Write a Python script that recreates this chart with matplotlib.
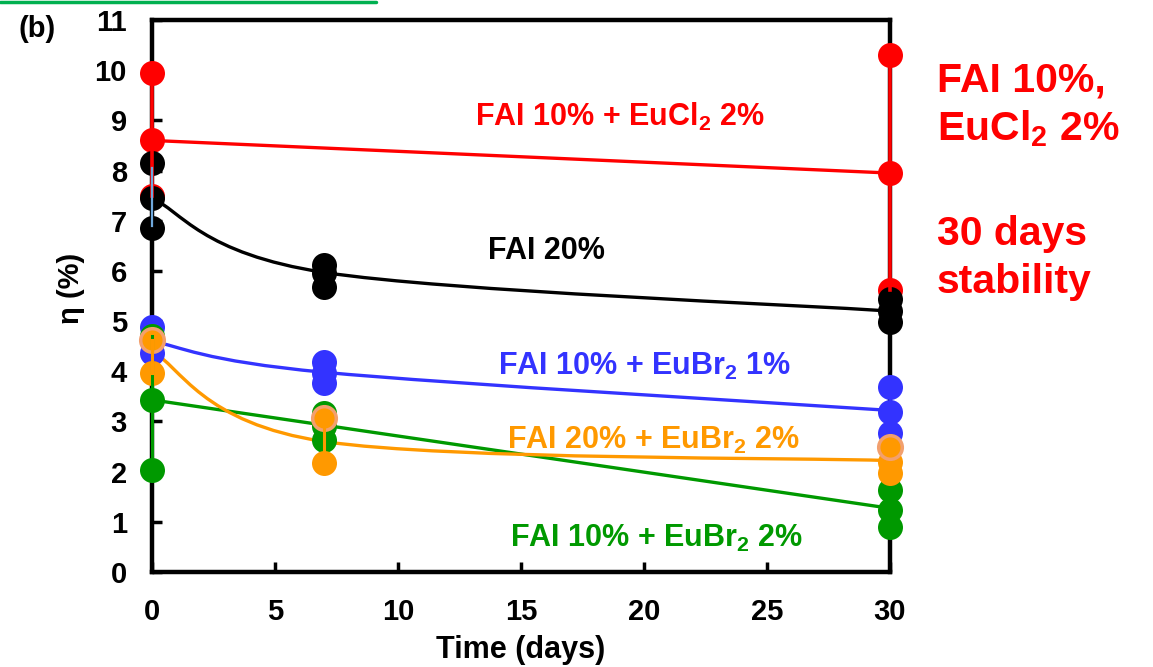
import matplotlib
matplotlib.use("Agg")
import matplotlib.pyplot as plt
from matplotlib.path import Path
from matplotlib.patches import PathPatch
from matplotlib.lines import Line2D

plt.rcParams['font.family'] = ['Liberation Sans', 'DejaVu Sans']
plt.rcParams['font.weight'] = 'bold'
plt.rcParams['mathtext.fontset'] = 'custom'
plt.rcParams['mathtext.bf'] = 'Liberation Sans:bold'
plt.rcParams['mathtext.rm'] = 'Liberation Sans:bold'
plt.rcParams['mathtext.default'] = 'bf'

# measured efficiencies (%) per cell, grouped by day
red_x = [0, 0, 0, 30, 30, 30]
red_y = [9.95, 8.6, 7.5, 10.3, 7.95, 5.62]
black_x = [0, 0, 0, 7, 7, 7, 30, 30, 30]
black_y = [8.15, 7.45, 6.85, 6.12, 5.95, 5.68, 5.44, 5.2, 4.98]
blue_x = [0, 0, 0, 7, 7, 7, 30, 30, 30]
blue_y = [4.88, 4.6, 4.36, 4.18, 3.97, 3.76, 3.69, 3.19, 2.77]
green_x = [0, 0, 0, 7, 7, 7, 30, 30, 30]
green_y = [4.7, 3.43, 2.03, 3.17, 2.9, 2.63, 1.63, 1.23, 0.9]
orange_x = [0, 7, 30, 30]
orange_y = [3.96, 2.17, 2.19, 1.97]
orange_ring_x = [0, 7, 30]
orange_ring_y = [4.62, 3.07, 2.49]

# trend lines
red_fit_x = [0, 30]
red_fit_y = [8.6, 7.95]
black_fit_x = [0, 7, 30]
black_fit_y = [7.45, 5.97, 5.2]
blue_fit_x = [0, 7, 30]
blue_fit_y = [4.6, 3.98, 3.22]
orange_fit_x = [0, 7, 30]
orange_fit_y = [4.4, 2.6, 2.22]
green_fit_x = [0, 30]
green_fit_y = [3.43, 1.27]

RED = '#ff0000'
BLUE = '#3333ff'
GREEN = '#009900'
ORANGE = '#ff9900'
SALMON = '#f2a06e'


def smooth_path(xs, ys):
    # Catmull-Rom style bezier through the points (like a spreadsheet "smoothed line")
    pts = list(zip(xs, ys))
    verts = [pts[0]]
    codes = [Path.MOVETO]
    n = len(pts)
    for i in range(n - 1):
        p0 = pts[i - 1] if i > 0 else pts[i]
        p1 = pts[i]
        p2 = pts[i + 1]
        p3 = pts[i + 2] if i + 2 < n else pts[i + 1]
        c1 = (p1[0] + (p2[0] - p0[0]) / 6, p1[1] + (p2[1] - p0[1]) / 6)
        c2 = (p2[0] - (p3[0] - p1[0]) / 6, p2[1] - (p3[1] - p1[1]) / 6)
        verts += [c1, c2, p2]
        codes += [Path.CURVE4] * 3
    return Path(verts, codes)


fig = plt.figure(figsize=(11.53, 6.67), dpi=100)
ax = fig.add_axes([152 / 1153, 95 / 667, 738 / 1153, 552 / 667])

# vertical connectors between replicate cells
def connectors(xs, ys, color, lw=2.2):
    for d in sorted(set(xs)):
        vals = [y for x, y in zip(xs, ys) if x == d]
        ax.plot([d, d], [min(vals), max(vals)], color=color, lw=lw,
                clip_on=False, zorder=6)

# trend lines
ax.plot(red_fit_x, red_fit_y, color=RED, lw=2.4, zorder=3, clip_on=False)
ax.plot(green_fit_x, green_fit_y, color=GREEN, lw=2.4, zorder=3, clip_on=False)
for fx, fy, c in [(black_fit_x, black_fit_y, 'black'),
                  (blue_fit_x, blue_fit_y, BLUE),
                  (orange_fit_x, orange_fit_y, ORANGE)]:
    ax.add_patch(PathPatch(smooth_path(fx, fy), fill=False, edgecolor=c,
                           lw=2.4, zorder=3, clip_on=False))

ms = 18
ax.plot(blue_x, blue_y, 'o', color=BLUE, ms=ms, mew=0, zorder=4, clip_on=False)
ax.plot(green_x, green_y, 'o', color=GREEN, ms=ms, mew=0, zorder=4.1, clip_on=False)
ax.plot(orange_x, orange_y, 'o', color=ORANGE, ms=ms, mew=0, zorder=4.2, clip_on=False)
ax.plot(orange_ring_x, orange_ring_y, 'o', color=ORANGE, mec=SALMON, ms=ms - 1,
        mew=2.5, zorder=4.3, clip_on=False)
ax.plot(red_x, red_y, 'o', color=RED, ms=ms, mew=0, zorder=4.4, clip_on=False)
ax.plot(black_x, black_y, 'o', color='black', ms=ms, mew=0, zorder=4.5, clip_on=False)

connectors(red_x, red_y, RED, lw=2.6)
connectors(green_x[:3], green_y[:3], GREEN)
connectors([0, 0], [orange_ring_y[0], orange_y[0]], ORANGE)
connectors([7, 7], [orange_ring_y[1], orange_y[1]], ORANGE)
ax.plot([0, 0], [8.05, 6.9], color='#6fa8dc', lw=1.6, zorder=6.5, clip_on=False)

ax.set_xlim(0, 30)
ax.set_ylim(0, 11)
ax.set_xticks(range(0, 31, 5))
ax.set_yticks(range(0, 12))
ax.tick_params(direction='in', length=7, width=2.5, labelsize=21,
               top=False, right=False)
ax.tick_params(axis='x', pad=19)
ax.tick_params(axis='y', pad=18)
for s in ax.spines.values():
    s.set_linewidth(3.2)
    s.set_zorder(2.5)
ax.set_xlabel('Time (days)', fontsize=22, fontweight='bold', labelpad=6)

fig.text(71 / 1153, 1 - 288 / 667, 'η (%)', rotation=90, ha='center', va='center',
         fontsize=21, fontweight='bold')
fig.text(37 / 1153, 1 - 29 / 667, '(b)', ha='center', va='center',
         fontsize=21, fontweight='bold')
fig.add_artist(Line2D([0, 376 / 1153], [1 - 1.5 / 667] * 2, color='#00b050',
                      lw=2.5, solid_capstyle='round'))

# series labels
lab = dict(ha='center', va='baseline', fontsize=22, fontweight='bold')
ax.text(19.0, 8.89, r'FAI 10% + EuCl$_2$ 2%', color=RED, **lab)
ax.text(16.04, 6.24, 'FAI 20%', color='black', **lab)
ax.text(20.04, 3.93, r'FAI 10% + EuBr$_2$ 1%', color=BLUE, **lab)
ax.text(20.4, 2.45, r'FAI 20% + EuBr$_2$ 2%', color=ORANGE, **lab)
ax.text(20.53, 0.50, r'FAI 10% + EuBr$_2$ 2%', color=GREEN, **lab)

side = dict(ha='left', va='baseline', fontsize=29.5, fontweight='bold', color=RED)
fig.text(937 / 1153, 1 - 92 / 667, 'FAI 10%,', **side)
fig.text(937 / 1153, 1 - 140 / 667, r'EuCl$_2$ 2%', **side)
fig.text(937 / 1153, 1 - 245 / 667, '30 days', **side)
fig.text(937 / 1153, 1 - 293 / 667, 'stability', **side)

fig.savefig('out.png', dpi=100)
